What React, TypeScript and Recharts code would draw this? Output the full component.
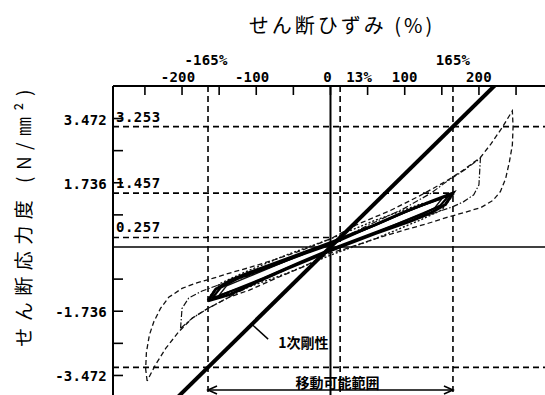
import React from 'react';
import { ComposedChart, Line, XAxis, YAxis, ReferenceLine } from 'recharts';

const W = 545;
const H = 395;
const MONO = '"DejaVu Sans Mono", "Liberation Mono", monospace';
const JP = '"Noto Sans CJK JP", "Noto Sans CJK SC", sans-serif';

// ---- axes ----
const strainDomain: [number, number] = [-293, 289];
const stressDomain: [number, number] = [-4.0, 4.351];
const strainTicks = [-250, -200, -150, -100, -50, 0, 50, 100, 150, 200, 250];
const strainTickLabels = [-200, -100, 0, 100, 200];
const stressTicks = [-3.472, -2.604, -1.736, -0.868, 0.868, 1.736, 2.604, 3.472];
const stressTickLabels = [-3.472, -1.736, 1.736, 3.472];

// ---- annotation values ----
const limitStrain = 165;
const yieldStrain = 13;
const stressAtLimit = 3.253;
const loopPeakStress = 1.457;
const yieldStress = 0.257;
const rangeArrowStress = -3.865;
const leaderFrom: [number, number] = [-106, -2.09];
const leaderTo: [number, number] = [-84, -2.49];

// ---- series ----
const firstStiffness: [number, number][] = [[-225, -4.436], [225, 4.436]];

const outerLoop: [number, number][] = [
  [-247, -3.62], [-249, -3.3], [-248, -2.85], [-244, -2.38], [-238, -2.02], [-229, -1.66],
  [-218, -1.36], [-200, -1.12], [-182, -0.98], [-159, -0.85], [-137, -0.71], [-110, -0.56],
  [-75, -0.34], [-40, -0.1], [0, 0.22], [35, 0.6], [80, 0.98], [120, 1.38], [156, 1.78],
  [179, 2.08], [202, 2.42], [216, 2.78], [231, 3.22], [245, 3.68],
  [246, 3.25], [245, 2.75], [241, 2.3], [236, 1.85], [229, 1.5], [219, 1.26], [203, 1.07],
  [180, 0.93], [157, 0.8], [130, 0.63], [100, 0.46], [60, 0.22], [20, -0.05], [0, -0.16],
  [-35, -0.52], [-75, -0.86], [-110, -1.17], [-137, -1.36], [-150, -1.5], [-166, -1.67],
  [-186, -1.92], [-204, -2.28], [-222, -2.74], [-236, -3.19], [-247, -3.62],
];

const innerLoop: [number, number][] = [
  [-202, -2.2], [-200, -1.66], [-191, -1.38], [-173, -1.19], [-150, -1.02], [-110, -0.78],
  [-60, -0.38], [0, 0.08], [50, 0.58], [100, 1.05], [135, 1.45], [156, 1.76], [179, 2.06],
  [202, 2.4],
  [200, 1.68], [193, 1.41], [179, 1.22], [165, 1.09], [130, 0.85], [100, 0.64], [50, 0.3],
  [0, -0.08], [-50, -0.52], [-100, -0.98], [-130, -1.28], [-150, -1.5], [-166, -1.67],
  [-186, -1.92], [-202, -2.2],
];

const thickLoop: [number, number][] = [
  [-165, -1.457], [-155, -1.15], [-135, -0.9], [-108, -0.68], [-60, -0.33], [0, 0.12],
  [60, 0.6], [100, 0.95], [134, 1.22], [165, 1.457],
  [155, 1.15], [135, 0.92], [108, 0.7], [60, 0.36], [0, -0.1], [-60, -0.6], [-100, -0.95],
  [-135, -1.28], [-165, -1.457],
];

const secondLoop: [number, number][] = [
  [-160, -1.4], [-148, -1.1], [-125, -0.86], [-90, -0.6], [-40, -0.22], [0, 0.06],
  [40, 0.42], [90, 0.86], [125, 1.14], [160, 1.4],
  [148, 1.12], [125, 0.9], [90, 0.62], [40, 0.24], [0, -0.06], [-40, -0.4], [-90, -0.84],
  [-125, -1.12], [-160, -1.4],
];

const thinLoop: [number, number][] = [
  [-150, -1.3], [-140, -1.05], [-110, -0.8], [-50, -0.3], [0, 0.1], [50, 0.5], [110, 1.02],
  [150, 1.3],
  [140, 1.05], [110, 0.8], [50, 0.3], [0, -0.1], [-50, -0.5], [-110, -1.02], [-150, -1.3],
];

const dottedLoop: [number, number][] = [
  [-165, -1.4], [-150, -1.0], [-120, -0.72], [-60, -0.22], [0, 0.22], [60, 0.72],
  [120, 1.15], [165, 1.4],
  [150, 1.0], [120, 0.72], [60, 0.22], [0, -0.22], [-60, -0.72], [-120, -1.15], [-165, -1.4],
];

const toPts = (a: [number, number][]) => a.map(([x, y]) => ({ x, y }));

// ---- tick renderers ----
const TopTick = (p: any) => {
  const v = p.payload.value;
  const dx = v < 0 ? -4 : v === 0 ? -3 : 0;
  return (
    <g>
      <line x1={p.x} y1={p.y} x2={p.x} y2={p.y + 9} stroke="#000" strokeWidth={1.6} />
      {strainTickLabels.includes(v) && (
        <text x={p.x + dx} y={p.y - 4} textAnchor="middle" fontFamily={MONO} fontSize={14} fontWeight="bold" letterSpacing={0.2} fill="#000">
          {v}
        </text>
      )}
    </g>
  );
};

const LeftTick = (p: any) => {
  const v = p.payload.value;
  return (
    <g>
      <line x1={p.x} y1={p.y} x2={p.x + 10} y2={p.y} stroke="#000" strokeWidth={1.6} />
      {stressTickLabels.includes(v) && (
        <text x={p.x - 6} y={p.y + 6} textAnchor="end" fontFamily={MONO} fontSize={14} fontWeight="bold" letterSpacing={0.2} fill="#000">
          {v.toFixed(3)}
        </text>
      )}
    </g>
  );
};

const RightTick = (p: any) => (
  <line x1={p.x - 9} y1={p.y} x2={p.x} y2={p.y} stroke="#000" strokeWidth={1.6} />
);

// ---- reference line shapes ----
const dashedH = (label?: string) => (p: any) => {
  const xa = Math.min(p.x1, p.x2);
  const xb = Math.max(p.x1, p.x2);
  return (
    <g>
      <line x1={xa} y1={p.y1} x2={xb} y2={p.y2} stroke="#000" strokeWidth={1.6} strokeDasharray="6 4" />
      {label && (
        <text x={xa + 3} y={p.y1 - 5} fontFamily={MONO} fontSize={14} fontWeight="bold" letterSpacing={0.5} fill="#000">
          {label}
        </text>
      )}
    </g>
  );
};

const dashedV = (label: string, dx: number, dy: number, anchor: string) => (p: any) => {
  const top = Math.min(p.y1, p.y2);
  const bot = Math.max(p.y1, p.y2);
  return (
    <g>
      <line x1={p.x1} y1={top} x2={p.x2} y2={bot} stroke="#000" strokeWidth={1.6} strokeDasharray="6 4" />
      <text x={p.x1 + dx} y={top + dy} textAnchor={anchor as any} fontFamily={MONO} fontSize={14} fontWeight="bold" letterSpacing={0.2} fill="#000">
        {label}
      </text>
    </g>
  );
};

const arrowShape = (p: any) => {
  const xa = Math.min(p.x1, p.x2);
  const xb = Math.max(p.x1, p.x2);
  const y = p.y1;
  return (
    <g>
      <line x1={xa} y1={y} x2={xb} y2={y} stroke="#000" strokeWidth={1.6} />
      <path d={`M${xa + 9},${y - 4} L${xa},${y} L${xa + 9},${y + 4}`} fill="none" stroke="#000" strokeWidth={1.6} />
      <path d={`M${xb - 9},${y - 4} L${xb},${y} L${xb - 9},${y + 4}`} fill="none" stroke="#000" strokeWidth={1.6} />
      <text x={(xa + xb) / 2 + 7} y={y - 2} textAnchor="middle" fontFamily={JP} fontSize={14} fontWeight="bold" fill="#000">
        移動可能範囲
      </text>
    </g>
  );
};

const leaderShape = (p: any) => (
  <g>
    <line x1={p.x1} y1={p.y1} x2={p.x2} y2={p.y2} stroke="#000" strokeWidth={1.4} />
    <text x={p.x2 + 10} y={p.y2 + 9} fontFamily={JP} fontSize={14} fontWeight="bold" fill="#000">
      1次剛性
    </text>
  </g>
);

const TitleLabel = () => (
  <text x={342} y={33} textAnchor="middle" fontFamily={JP} fontSize={20} letterSpacing={3} fill="#000">
    せん断ひずみ (%)
  </text>
);

const YTitle = () => (
  <text
    x={24}
    y={215}
    dy={7}
    transform="rotate(-90, 24, 215)"
    textAnchor="middle"
    fontFamily={JP}
    fontSize={19}
    letterSpacing={6.5}
    fill="#000"
  >
    せん断応力度 (N/㎜²)
  </text>
);

export default function App() {
  return (
    <div style={{ position: 'absolute', left: 0, top: 0, width: W, height: H, background: '#fff' }}>
      <ComposedChart width={W} height={H} margin={{ top: 56, right: 0, bottom: 0, left: 73 }}>
        <XAxis
          type="number"
          dataKey="x"
          orientation="top"
          height={30}
          domain={strainDomain}
          ticks={strainTicks}
          allowDataOverflow
          interval={0}
          tickSize={0}
          tickMargin={0}
          tickLine={false}
          axisLine={{ stroke: '#000', strokeWidth: 2 }}
          tick={<TopTick />}
          label={<TitleLabel />}
        />
        <YAxis
          type="number"
          dataKey="y"
          width={40}
          domain={stressDomain}
          ticks={stressTicks}
          allowDataOverflow
          interval={0}
          tickSize={0}
          tickMargin={0}
          tickLine={false}
          axisLine={{ stroke: '#000', strokeWidth: 2 }}
          tick={<LeftTick />}
          label={<YTitle />}
        />
        <YAxis
          yAxisId="r"
          orientation="right"
          type="number"
          width={0}
          domain={stressDomain}
          ticks={stressTicks}
          allowDataOverflow
          interval={0}
          tickSize={0}
          tickMargin={0}
          tickLine={false}
          axisLine={false}
          tick={<RightTick />}
        />

        <ReferenceLine y={0} stroke="#000" strokeWidth={1.6} />
        <ReferenceLine x={0} stroke="#000" strokeWidth={2} />
        <ReferenceLine y={stressAtLimit} shape={dashedH('3.253')} />
        <ReferenceLine y={-stressAtLimit} shape={dashedH()} />
        <ReferenceLine
          segment={[{ x: strainDomain[0], y: loopPeakStress }, { x: limitStrain, y: loopPeakStress }]}
          shape={dashedH('1.457')}
        />
        <ReferenceLine
          segment={[{ x: strainDomain[0], y: yieldStress }, { x: 0, y: yieldStress }]}
          shape={dashedH('0.257')}
        />
        <ReferenceLine x={-limitStrain} shape={dashedV('-165%', -2, -21, 'middle')} />
        <ReferenceLine x={limitStrain} shape={dashedV('165%', 0, -21, 'middle')} />
        <ReferenceLine x={yieldStrain} shape={dashedV('13%', 6, -4, 'start')} />
        <ReferenceLine
          segment={[{ x: -limitStrain, y: rangeArrowStress }, { x: limitStrain, y: rangeArrowStress }]}
          shape={arrowShape}
        />
        <ReferenceLine
          segment={[{ x: leaderFrom[0], y: leaderFrom[1] }, { x: leaderTo[0], y: leaderTo[1] }]}
          shape={leaderShape}
        />

        <Line data={toPts(outerLoop)} dataKey="y" type="linear" dot={false} activeDot={false}
          stroke="#111" strokeWidth={1.3} strokeDasharray="5 3" isAnimationActive={false} />
        <Line data={toPts(innerLoop)} dataKey="y" type="linear" dot={false} activeDot={false}
          stroke="#111" strokeWidth={1.2} strokeDasharray="6 2 1.5 2" isAnimationActive={false} />
        <Line data={toPts(dottedLoop)} dataKey="y" type="linear" dot={false} activeDot={false}
          stroke="#111" strokeWidth={1.4} strokeDasharray="2 2" isAnimationActive={false} />
        <Line data={toPts(thinLoop)} dataKey="y" type="linear" dot={false} activeDot={false}
          stroke="#111" strokeWidth={1.5} isAnimationActive={false} />
        <Line data={toPts(secondLoop)} dataKey="y" type="linear" dot={false} activeDot={false}
          stroke="#000" strokeWidth={2.2} isAnimationActive={false} />
        <Line data={toPts(thickLoop)} dataKey="y" type="linear" dot={false} activeDot={false}
          stroke="#000" strokeWidth={3} isAnimationActive={false} />
        <Line data={toPts(firstStiffness)} dataKey="y" type="linear" dot={false} activeDot={false}
          stroke="#000" strokeWidth={4} isAnimationActive={false} />
      </ComposedChart>
    </div>
  );
}
